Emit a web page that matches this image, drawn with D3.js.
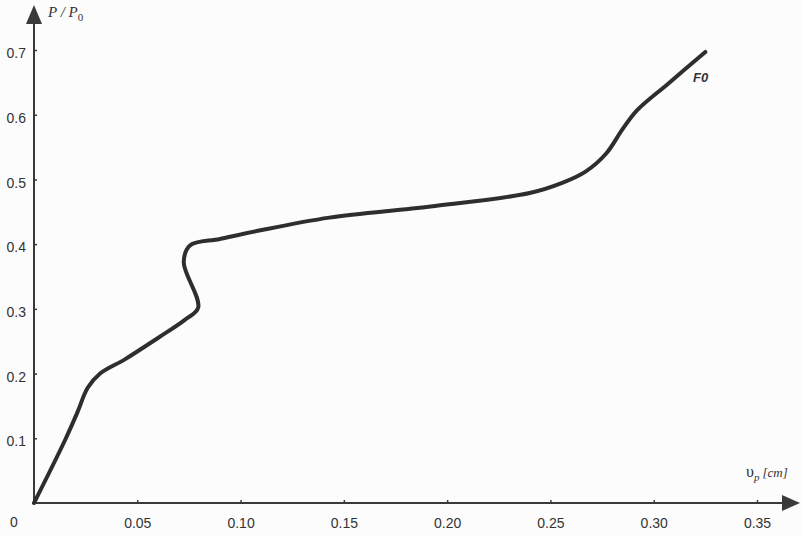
<!DOCTYPE html>
<html>
<head>
<meta charset="utf-8">
<script src="https://cdn.jsdelivr.net/npm/d3@7"></script>
<style>
  body { margin: 0; background: #fcfcfc; }
  svg { display: block; }
</style>
</head>
<body>
<div id="chart"></div>
<script>
// curve F0
var dispValues = [0, 0.015, 0.021, 0.026, 0.032, 0.044, 0.060, 0.073, 0.0795, 0.0725, 0.0755, 0.09, 0.109, 0.143, 0.192, 0.240, 0.256, 0.267, 0.277, 0.285, 0.292, 0.307, 0.325];
var loadValues = [0, 0.097, 0.14, 0.178, 0.2, 0.222, 0.255, 0.283, 0.302, 0.372, 0.398, 0.408, 0.421, 0.441, 0.458, 0.479, 0.495, 0.512, 0.54, 0.578, 0.607, 0.648, 0.697];
var xTicks = [0.05, 0.10, 0.15, 0.20, 0.25, 0.30, 0.35];
var yTicks = [0.1, 0.2, 0.3, 0.4, 0.5, 0.6, 0.7];
var seriesName = "F0";

var width = 801, height = 536;

var svg = d3.select("#chart")
    .append("svg")
    .attr("width", width)
    .attr("height", height);

var x = d3.scaleLinear().domain([0, 0.35]).range([34, 757]);
var y = d3.scaleLinear().domain([0, 0.7]).range([503, 50]);

var axisColor = "#3a3a3a";

// axis lines + arrow heads
svg.append("line")
    .attr("x1", x(0)).attr("y1", y(0))
    .attr("x2", 790).attr("y2", y(0))
    .attr("stroke", axisColor)
    .attr("stroke-width", 2);
svg.append("path")
    .attr("d", "M782," + (y(0) - 8) + " L800," + y(0) + " L782," + (y(0) + 8) + " Z")
    .attr("fill", axisColor);

svg.append("line")
    .attr("x1", x(0)).attr("y1", y(0))
    .attr("x2", x(0)).attr("y2", 14)
    .attr("stroke", axisColor)
    .attr("stroke-width", 2);
svg.append("path")
    .attr("d", "M" + (x(0) - 8) + ",24 L" + x(0) + ",5 L" + (x(0) + 8) + ",24 Z")
    .attr("fill", axisColor);

// ticks with d3 axes
var xAxis = svg.append("g")
    .attr("transform", "translate(0," + y(0) + ")")
    .call(d3.axisBottom(x).tickValues(xTicks).tickSize(-3).tickPadding(15)
        .tickFormat(d3.format(".2f")));
var yAxis = svg.append("g")
    .attr("transform", "translate(" + x(0) + ",0)")
    .call(d3.axisLeft(y).tickValues(yTicks).tickSize(-3).tickPadding(8)
        .tickFormat(d3.format(".1f")));

[xAxis, yAxis].forEach(function(a) {
    a.select(".domain").remove();
    a.selectAll(".tick line").attr("stroke", axisColor).attr("stroke-width", 1.5);
    a.selectAll(".tick text")
        .attr("fill", "#333")
        .style("font-family", "Arial, 'Liberation Sans', sans-serif")
        .style("font-size", "14px");
});
yAxis.selectAll(".tick text").attr("dy", "0.55em");

svg.append("text")
    .attr("x", 14).attr("y", 527)
    .attr("text-anchor", "middle")
    .attr("fill", "#333")
    .style("font-family", "Arial, 'Liberation Sans', sans-serif")
    .style("font-size", "14px")
    .text("0");

// axis titles
var yTitle = svg.append("text")
    .attr("x", 48).attr("y", 17)
    .attr("fill", "#333")
    .style("font-family", "'Liberation Serif', 'Times New Roman', serif")
    .style("font-size", "15px");
yTitle.append("tspan").style("font-style", "italic").text("P / P");
yTitle.append("tspan").attr("dy", 4).style("font-size", "11px").text("0");

var xTitle = svg.append("text")
    .attr("x", 746).attr("y", 477)
    .attr("fill", "#333")
    .style("font-family", "'Liberation Serif', 'Times New Roman', serif")
    .style("font-size", "16px");
xTitle.append("tspan").text("\u03c5");
xTitle.append("tspan").attr("dy", 4).style("font-size", "11px").style("font-style", "italic").text("p");
xTitle.append("tspan").attr("dy", -4).attr("dx", 3).style("font-size", "13px").style("font-style", "italic").text("[cm]");

// curve
var points = dispValues.map(function(d, i) { return [d, loadValues[i]]; });
var line = d3.line()
    .x(function(d) { return x(d[0]); })
    .y(function(d) { return y(d[1]); })
    .curve(d3.curveCatmullRom.alpha(0.5));

svg.append("path")
    .datum(points)
    .attr("d", line)
    .attr("fill", "none")
    .attr("stroke", "#2e2e2e")
    .attr("stroke-width", 4)
    .attr("stroke-linecap", "round")
    .attr("stroke-linejoin", "round");

svg.append("text")
    .attr("x", 693).attr("y", 82)
    .attr("fill", "#333")
    .style("font-family", "Arial, 'Liberation Sans', sans-serif")
    .style("font-weight", "bold")
    .style("font-style", "italic")
    .style("font-size", "13px")
    .text(seriesName);
</script>
</body>
</html>
